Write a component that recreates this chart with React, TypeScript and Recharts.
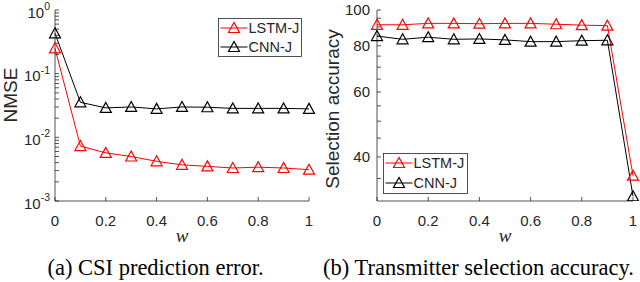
import { LineChart, Line, XAxis, YAxis } from 'recharts'

const SANS = '"Liberation Sans", Arial, Helvetica, sans-serif'
const SERIF = '"Liberation Serif", "Times New Roman", serif'
const INK = '#262626'

// shared x values (w)
const wValues = [0, 0.1, 0.2, 0.3, 0.4, 0.5, 0.6, 0.7, 0.8, 0.9, 1]
const xTicks = [0, 0.2, 0.4, 0.6, 0.8, 1]

// (a) CSI prediction error, NMSE (log)
const lstmNmse = [0.25, 0.0073, 0.0057, 0.005, 0.0042, 0.0037, 0.0035, 0.0033, 0.0034, 0.0033, 0.0031]
const cnnNmse = [0.43, 0.0355, 0.029, 0.03, 0.028, 0.03, 0.0297, 0.0285, 0.0285, 0.0285, 0.028]
const nmseTicks = [
  0.001, 0.002, 0.003, 0.004, 0.005, 0.006, 0.007, 0.008, 0.009,
  0.01, 0.02, 0.03, 0.04, 0.05, 0.06, 0.07, 0.08, 0.09,
  0.1, 0.2, 0.3, 0.4, 0.5, 0.6, 0.7, 0.8, 0.9, 1,
]
const nmseLabels = [0.001, 0.01, 0.1, 1]

// (b) transmitter selection accuracy (log)
const lstmAcc = [91.2, 91.2, 92.0, 92.0, 91.8, 92.0, 92.0, 91.5, 91.0, 90.7, 35.6]
const cnnAcc = [85.0, 83.3, 84.4, 83.3, 83.5, 83.0, 82.1, 82.1, 82.6, 82.8, 31.3]
const accTicks = [35, 40, 45, 50, 55, 60, 65, 70, 75, 80, 85, 90, 95, 100]
const accLabels = [40, 60, 80, 100]

const seriesNames = ['LSTM-J', 'CNN-J']
const seriesColors = ['#ff0000', '#000000']

const nmseRows = wValues.map((w, i) => ({ w, lstm: lstmNmse[i], cnn: cnnNmse[i] }))
const accRows = wValues.map((w, i) => ({ w, lstm: lstmAcc[i], cnn: cnnAcc[i] }))

const axisLine = { stroke: INK, strokeWidth: 0.8 }
const tickText = { fill: INK, fontSize: 15, fontFamily: SANS }
const fmtW = (v: number) => String(v)

function tri(cx: number, cy: number) {
  return `${cx},${cy - 5.5} ${cx - 5.5},${cy + 4.5} ${cx + 5.5},${cy + 4.5}`
}

const triangleDot = (color: string) => (props: any) => {
  const { cx, cy, index } = props
  if (cx == null || cy == null) return <g key={index} />
  return <polygon key={index} points={tri(cx, cy)} fill="none" stroke={color} strokeWidth={1.2} />
}

function PowerTick(props: any) {
  const { x, y, payload } = props
  if (!nmseLabels.includes(payload.value)) return <g />
  const exp = Math.round(Math.log10(payload.value))
  return (
    <text x={x} y={y + 7.5} textAnchor="end" fill={INK} fontFamily={SANS} fontSize={15}>
      10<tspan dy={-7.5} fontSize={10.5}>{exp}</tspan>
    </text>
  )
}

function LegendBox({ x, y, w, h, rows }: { x: number; y: number; w: number; h: number; rows: number[] }) {
  return (
    <g>
      <rect x={x} y={y} width={w} height={h} fill="#fff" stroke={INK} strokeWidth={0.8} />
      {seriesNames.map((name, i) => (
        <g key={name}>
          <line x1={x + 2} x2={x + 29} y1={rows[i]} y2={rows[i]} stroke={seriesColors[i]} strokeWidth={1} />
          <polygon points={tri(x + 15.5, rows[i])} fill="none" stroke={seriesColors[i]} strokeWidth={1.2} />
          <text x={x + 30} y={rows[i] + 5.3} fill={INK} fontFamily={SANS} fontSize={14.5}>{name}</text>
        </g>
      ))}
    </g>
  )
}

function NmseChart() {
  return (
    <LineChart width={320} height={250} data={nmseRows} margin={{ top: 10, right: 11, bottom: 19, left: 0 }}>
      <XAxis dataKey="w" type="number" domain={[0, 1]} ticks={xTicks} interval={0} height={30}
        tickSize={-4} tickMargin={18} axisLine={axisLine} tickLine={axisLine} tick={tickText} tickFormatter={fmtW} />
      <XAxis xAxisId="top" orientation="top" dataKey="w" type="number" domain={[0, 1]} ticks={xTicks}
        interval={0} height={0} tickSize={-4} tick={false} axisLine={axisLine} tickLine={axisLine} />
      <YAxis type="number" scale="log" domain={[0.001, 1]} ticks={nmseTicks} interval={0} allowDataOverflow
        width={55} tickSize={-4} tickMargin={9} axisLine={axisLine} tickLine={axisLine}
        tick={(p: any) => <PowerTick {...p} />} />
      <YAxis yAxisId="right" orientation="right" type="number" scale="log" domain={[0.001, 1]} ticks={nmseTicks}
        interval={0} allowDataOverflow width={0} tickSize={-4} tick={false} axisLine={axisLine} tickLine={axisLine} />
      <Line type="linear" dataKey="lstm" stroke={seriesColors[0]} strokeWidth={1}
        dot={triangleDot(seriesColors[0])} isAnimationActive={false} />
      <Line type="linear" dataKey="cnn" stroke={seriesColors[1]} strokeWidth={1}
        dot={triangleDot(seriesColors[1])} isAnimationActive={false} />
    </LineChart>
  )
}

function AccuracyChart() {
  const fmtAcc = (v: number) => (accLabels.includes(v) ? String(v) : '')
  return (
    <LineChart width={320} height={250} data={accRows} margin={{ top: 10, right: 7, bottom: 19, left: 0 }}>
      <XAxis dataKey="w" type="number" domain={[0, 1]} ticks={xTicks} interval={0} height={30}
        tickSize={-4} tickMargin={18} axisLine={axisLine} tickLine={axisLine} tick={tickText} tickFormatter={fmtW} />
      <XAxis xAxisId="top" orientation="top" dataKey="w" type="number" domain={[0, 1]} ticks={xTicks}
        interval={0} height={0} tickSize={-4} tick={false} axisLine={axisLine} tickLine={axisLine} />
      <YAxis type="number" scale="log" domain={[30.4, 100]} ticks={accTicks} interval={0} allowDataOverflow
        width={57} tickSize={-4} tickMargin={11} axisLine={axisLine} tickLine={axisLine}
        tick={tickText} tickFormatter={fmtAcc} />
      <YAxis yAxisId="right" orientation="right" type="number" scale="log" domain={[30.4, 100]} ticks={accTicks}
        interval={0} allowDataOverflow width={0} tickSize={-4} tick={false} axisLine={axisLine} tickLine={axisLine} />
      <Line type="linear" dataKey="lstm" stroke={seriesColors[0]} strokeWidth={1}
        dot={triangleDot(seriesColors[0])} isAnimationActive={false} />
      <Line type="linear" dataKey="cnn" stroke={seriesColors[1]} strokeWidth={1}
        dot={triangleDot(seriesColors[1])} isAnimationActive={false} />
    </LineChart>
  )
}

export default function App() {
  return (
    <div style={{ position: 'absolute', left: 0, top: 0, width: 640, height: 282, background: '#fff', overflow: 'hidden' }}>
      <div style={{ position: 'absolute', left: 0, top: 0 }}><NmseChart /></div>
      <div style={{ position: 'absolute', left: 320, top: 0 }}><AccuracyChart /></div>
      <svg width={640} height={282} style={{ position: 'absolute', left: 0, top: 0, pointerEvents: 'none' }}>
        <text x={16.5} y={95} transform="rotate(-90 16.5 95)" textAnchor="middle" fill={INK} fontFamily={SANS} fontSize={19}>NMSE</text>
        <text x={339} y={109} transform="rotate(-90 339 109)" textAnchor="middle" fill={INK} fontFamily={SANS} fontSize={19}>Selection accuracy</text>
        <text x={182} y={242} textAnchor="middle" fill={INK} fontFamily={SERIF} fontStyle="italic" fontSize={19}>w</text>
        <text x={505} y={242} textAnchor="middle" fill={INK} fontFamily={SERIF} fontStyle="italic" fontSize={19}>w</text>
        <text x={155.5} y={275} textAnchor="middle" fill="#000" fontFamily={SERIF} fontSize={22.5}>(a) CSI prediction error.</text>
        <text x={478.5} y={275} textAnchor="middle" fill="#000" fontFamily={SERIF} fontSize={22.5}>(b) Transmitter selection accuracy.</text>
        <LegendBox x={218.5} y={18.5} w={83} h={38} rows={[28, 47]} />
        <LegendBox x={383.5} y={153.5} w={84} h={40} rows={[163, 183]} />
      </svg>
    </div>
  )
}
